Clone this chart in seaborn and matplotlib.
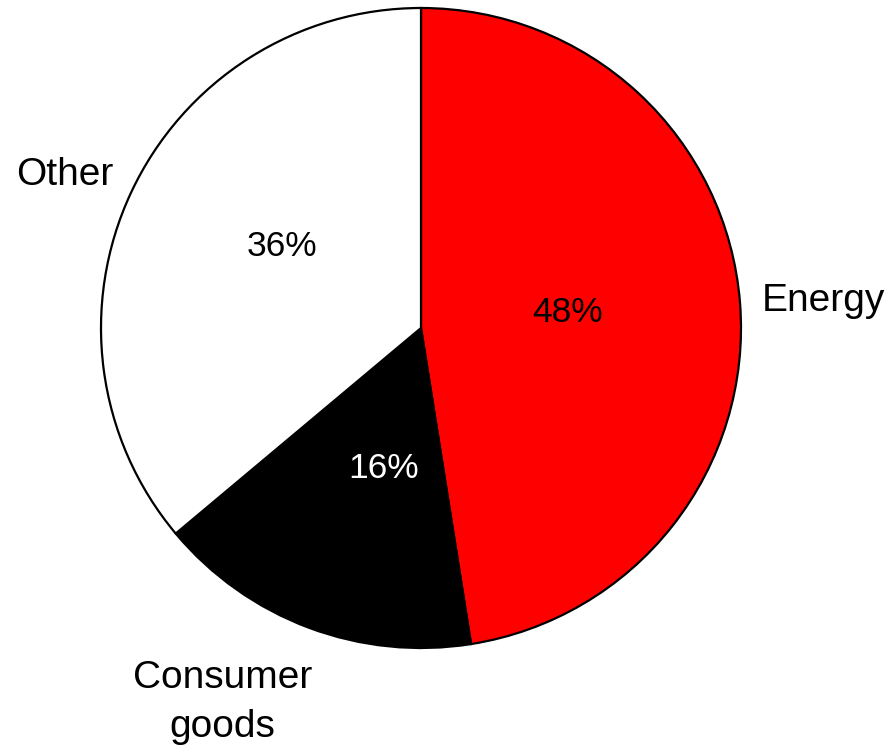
import matplotlib
matplotlib.use("Agg")
import matplotlib.pyplot as plt
import seaborn as sns

sns.set_theme(style="white")
plt.rcParams['font.family'] = ['Liberation Sans', 'DejaVu Sans']

categories = ["Energy", "Consumer\ngoods", "Other"]
shares = [47.5, 16.4, 36.1]
pct_labels = ["48%", "16%", "36%"]
colors = ["#ff0000", "#000000", "#ffffff"]
pct_colors = ["black", "white", "black"]

W, H = 888, 748
cx, cy, r = 421, 328, 320
fig = plt.figure(figsize=(W / 100, H / 100), dpi=100)
ax = fig.add_axes([0, 0, 1, 1])

wedges, _ = ax.pie(shares, colors=colors, startangle=90, counterclock=False,
                   radius=1.0, center=(0, 0),
                   wedgeprops=dict(edgecolor="black", linewidth=1.6))

ax.set_xlim(-cx / r, (W - cx) / r)
ax.set_ylim(-(H - cy) / r, cy / r)
ax.set_aspect("auto")
ax.axis("off")

# outer category labels (layout positions in axis units)
label_pos = [(1.065, 0.085, "left"), (-0.62, -1.17, "center"), (-0.96, 0.478, "right")]
for name, (x, y, ha) in zip(categories, label_pos):
    ax.text(x, y, name, ha=ha, va="center", fontsize=28, color="black",
            multialignment="center", linespacing=1.45)

# percentage labels inside wedges
pct_pos = [(0.457, 0.047), (-0.118, -0.44), (-0.434, 0.256)]
for txt, col, (x, y) in zip(pct_labels, pct_colors, pct_pos):
    ax.text(x, y, txt, ha="center", va="center", fontsize=25.5, color=col)

fig.savefig("out.png", dpi=100)
